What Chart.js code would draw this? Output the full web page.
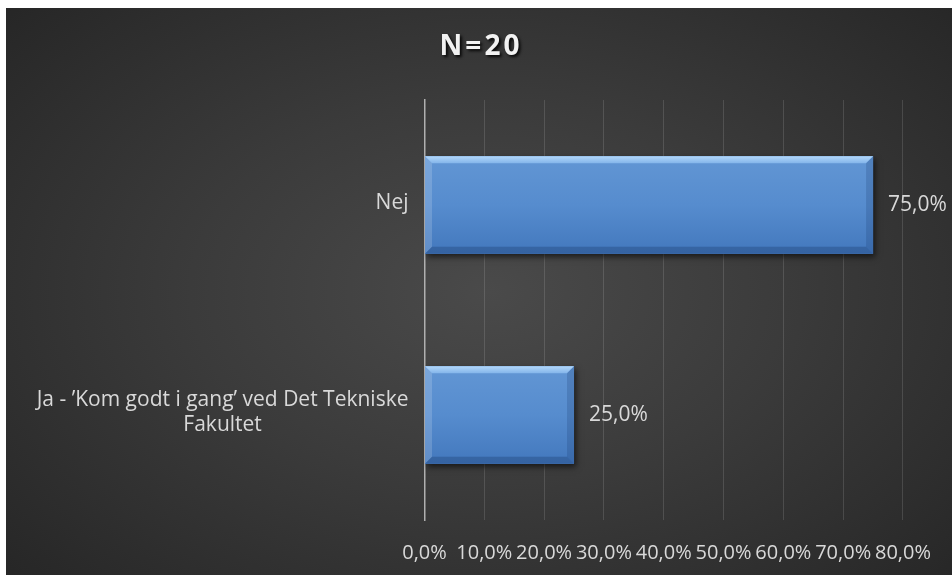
<!DOCTYPE html>
<html>
<head>
<meta charset="utf-8">
<script src="https://cdn.jsdelivr.net/npm/chart.js@4.4.1/dist/chart.umd.min.js"></script>
<style>
    html, body { margin: 0; padding: 0; background: #ffffff; }
    #wrap {
        position: absolute;
        left: 6px;
        top: 8px;
        width: 946px;
        height: 567px;
        background: radial-gradient(ellipse 70% 75% at 51% 50%, #4a4a4a 0%, #3b3b3b 45%, #262626 100%);
    }
</style>
</head>
<body>
<div id="wrap"><canvas id="chart"></canvas></div>
<script>
// Données
const titre = 'N=20';
const categories = ['Nej', ['Ja - ’Kom godt i gang’ ved Det Tekniske', 'Fakultet']];
const valeurs = [75, 25];
const xMin = 0;
const xMax = 80;
const xStep = 10;

const FONT = '"Open Sans", sans-serif';
const TEXT = '#d9d9d9';

function pct(v) {
    return Number(v).toFixed(1).replace('.', ',') + '%';
}

// Titre avec ombre
const titlePlugin = {
    id: 'titleShadow',
    afterDraw(chart) {
        const ctx = chart.ctx;
        ctx.save();
        ctx.font = 'bold 28px "Open Sans", sans-serif';
        if ('letterSpacing' in ctx) ctx.letterSpacing = '3px';
        ctx.textAlign = 'center';
        ctx.textBaseline = 'middle';
        ctx.shadowColor = 'rgba(0,0,0,0.85)';
        ctx.shadowBlur = 3;
        ctx.shadowOffsetX = 2;
        ctx.shadowOffsetY = 2;
        ctx.fillStyle = '#f2f2f2';
        ctx.fillText(titre, chart.width / 2 + 2, 39);
        ctx.restore();
    }
};

// Étiquettes des catégories (centrées ligne par ligne, bloc aligné à droite)
const catLabels = {
    id: 'catLabels',
    afterDraw(chart) {
        const ctx = chart.ctx;
        const yScale = chart.scales.y;
        const right = chart.chartArea.left - 16;
        const lh = 25;
        ctx.save();
        ctx.font = '21px ' + FONT;
        ctx.fillStyle = TEXT;
        ctx.textAlign = 'center';
        ctx.textBaseline = 'middle';
        categories.forEach((lab, i) => {
            const lines = Array.isArray(lab) ? lab : [lab];
            const w = Math.max(...lines.map(l => ctx.measureText(l).width));
            const cx = right - w / 2;
            const cy = yScale.getPixelForTick(i);
            lines.forEach((l, k) => {
                ctx.fillText(l, cx, cy + (k - (lines.length - 1) / 2) * lh - 2);
            });
        });
        ctx.restore();
    }
};

// Barres avec biseau, ombre et valeurs
const bevelBars = {
    id: 'bevelBars',
    beforeDatasetsDraw(chart) {
        const ctx = chart.ctx;
        ctx.save();
        ctx.shadowColor = 'rgba(0,0,0,0.6)';
        ctx.shadowBlur = 6;
        ctx.shadowOffsetX = 2;
        ctx.shadowOffsetY = 3;
    },
    afterDatasetsDraw(chart) {
        const ctx = chart.ctx;
        ctx.restore();
        const meta = chart.getDatasetMeta(0);
        const d = 7;
        meta.data.forEach((el, i) => {
            const p = el.getProps(['x', 'y', 'base', 'height'], true);
            const L = Math.min(p.base, p.x), R = Math.max(p.base, p.x);
            const T = p.y - p.height / 2, B = p.y + p.height / 2;

            ctx.save();
            // face
            const g = ctx.createLinearGradient(0, T, 0, B);
            g.addColorStop(0, '#6296d4');
            g.addColorStop(0.5, '#568cce');
            g.addColorStop(1, '#4378bd');
            ctx.fillStyle = g;
            ctx.fillRect(L, T, R - L, B - T);

            const poly = (pts, fill) => {
                ctx.beginPath();
                ctx.moveTo(pts[0][0], pts[0][1]);
                pts.slice(1).forEach(q => ctx.lineTo(q[0], q[1]));
                ctx.closePath();
                ctx.fillStyle = fill;
                ctx.fill();
            };
            const gt = ctx.createLinearGradient(0, T, 0, T + d);
            gt.addColorStop(0, '#b3d8fa');
            gt.addColorStop(1, '#84b5ea');
            poly([[L, T], [R, T], [R - d, T + d], [L + d, T + d]], gt);
            poly([[L, T], [L + d, T + d], [L + d, B - d], [L, B]], 'rgba(255,255,255,0.16)');
            poly([[R, T], [R, B], [R - d, B - d], [R - d, T + d]], 'rgba(20,50,100,0.2)');
            poly([[L, B], [L + d, B - d], [R - d, B - d], [R, B]], 'rgba(20,50,100,0.3)');
            ctx.restore();

            // valeur
            ctx.save();
            ctx.font = '21px ' + FONT;
            ctx.fillStyle = TEXT;
            ctx.textAlign = 'left';
            ctx.textBaseline = 'middle';
            ctx.fillText(pct(valeurs[i]), R + 15, p.y);
            ctx.restore();
        });
    }
};

const ctx = document.getElementById('chart').getContext('2d');
new Chart(ctx, {
    type: 'bar',
    data: {
        labels: categories,
        datasets: [{
            data: valeurs,
            backgroundColor: '#568cce',
            borderWidth: 0,
            barPercentage: 0.465,
            categoryPercentage: 1
        }]
    },
    options: {
        indexAxis: 'y',
        responsive: true,
        maintainAspectRatio: false,
        animation: false,
        layout: {
            padding: { top: 92, right: 45, left: 0, bottom: 0 }
        },
        plugins: {
            legend: { display: false },
            title: { display: false },
            tooltip: { enabled: false }
        },
        scales: {
            x: {
                min: xMin,
                max: xMax,
                ticks: {
                    stepSize: xStep,
                    autoSkip: false,
                    maxRotation: 0,
                    padding: 21,
                    color: TEXT,
                    font: { family: FONT, size: 20 },
                    callback: v => pct(v)
                },
                grid: {
                    color: 'rgba(255,255,255,0.13)',
                    lineWidth: 1,
                    drawTicks: false
                },
                border: { display: false },
                afterFit: s => { s.height = 55; }
            },
            y: {
                ticks: { display: false },
                grid: { display: false },
                border: { display: true, color: '#b0b0b0', width: 1.5 },
                afterFit: s => { s.width = 418.5; }
            }
        }
    },
    plugins: [titlePlugin, catLabels, bevelBars]
});
</script>
</body>
</html>
